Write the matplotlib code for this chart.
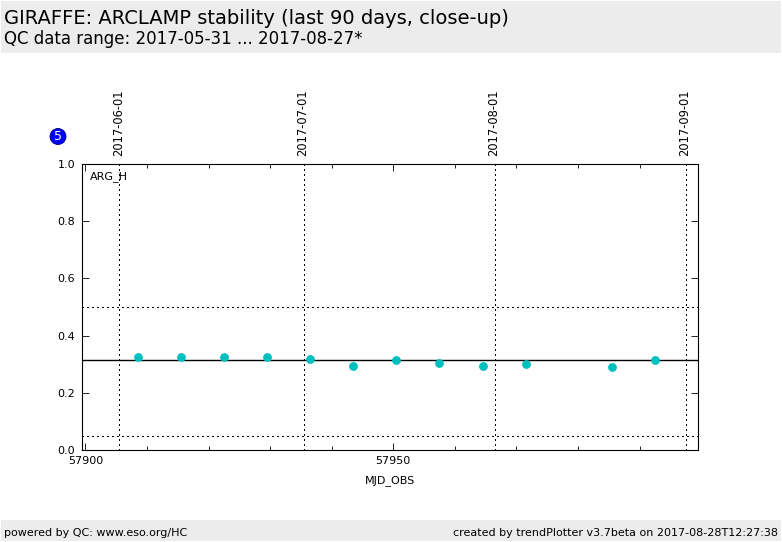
import matplotlib
matplotlib.use('Agg')
import matplotlib.pyplot as plt
from matplotlib.patches import Rectangle
from matplotlib.ticker import MultipleLocator, FixedLocator

W, H = 782, 542

mjd = [57908.5, 57915.5, 57922.5, 57929.5, 57936.5, 57943.5, 57950.5, 57957.5, 57964.5, 57971.5, 57985.5, 57992.5]
arg_h = [0.326, 0.326, 0.326, 0.326, 0.318, 0.294, 0.315, 0.304, 0.294, 0.300, 0.290, 0.315]
date_ticks = [57905.5, 57935.5, 57966.5, 57997.5]
date_labels = ['2017-06-01', '2017-07-01', '2017-08-01', '2017-09-01']
median_level = 0.313
limit_levels = [0.05, 0.5]


def px_box(x0, y0, x1, y1):
    # pixel box (y from top) to figure fractions
    return [x0 / W, 1 - y1 / H, (x1 - x0) / W, (y1 - y0) / H]


fig = plt.figure(figsize=(W / 100, H / 100), dpi=100)

# header and footer bands
for y0, y1 in [(1, 53), (520, 541)]:
    fig.patches.append(Rectangle((1 / W, 1 - y1 / H), 780 / W, (y1 - y0) / H, transform=fig.transFigure,
                                 facecolor='#ececec', edgecolor='none'))

fig.text(4 / W, 1 - 18 / H, 'GIRAFFE: ARCLAMP stability (last 90 days, close-up)', fontsize=14, va='center', color='black')
fig.text(4 / W, 1 - 39 / H, 'QC data range: 2017-05-31 ... 2017-08-27*', fontsize=12, va='center', color='black')
fig.text(4 / W, 1 - 532.5 / H, 'powered by QC: www.eso.org/HC', fontsize=8, va='center')
fig.text(778 / W, 1 - 532.5 / H, 'created by trendPlotter v3.7beta on 2017-08-28T12:27:38', fontsize=8, va='center', ha='right')

ax = fig.add_axes(px_box(82, 164, 698, 450))
ax.set_xlim(57899.45, 57999.5)
ax.set_ylim(0, 1)

ax.plot(mjd, arg_h, 'o', color='#00bfbf', markersize=5.3, markeredgecolor='#00bfbf', zorder=3)
ax.axhline(median_level, color='black', lw=1)
for lev in limit_levels:
    ax.axhline(lev, color='black', lw=1, ls=(0, (0.8, 2.6)), antialiased=False)
for d in date_ticks:
    ax.axvline(d, color='black', lw=1, ls=(0, (0.8, 2.8)), antialiased=False)
    ax.text(d + 0.9, 1.027, date_labels[date_ticks.index(d)], transform=ax.get_xaxis_transform(), rotation=90,
            ha='right', va='bottom', fontsize=8.3, rotation_mode='default')

ax.xaxis.set_major_locator(FixedLocator([57900, 57950]))
ax.xaxis.set_minor_locator(MultipleLocator(10))
ax.xaxis.set_major_formatter(lambda v, p: f'{v:.0f}')
ax.yaxis.set_major_locator(MultipleLocator(0.2))
ax.tick_params(axis='both', which='major', direction='in', top=True, right=True, labelsize=8, length=5, width=0.6, pad=4)
ax.tick_params(axis='y', which='major', pad=5)
ax.tick_params(axis='x', which='minor', direction='in', top=True, length=3, width=0.6)
ax.set_xlabel('MJD_OBS', fontsize=8, labelpad=7)
ax.text(90 / W, 1 - 176.5 / H, 'ARG_H', transform=fig.transFigure, fontsize=8, va='center')

fig.text(58 / W, 1 - 136.5 / H, '5', fontsize=9, color='white', ha='center', va='center',
         bbox=dict(boxstyle='circle,pad=0.12', facecolor='#0000ff', edgecolor='#000080', lw=0.6))

fig.savefig('out.png', dpi=100)
